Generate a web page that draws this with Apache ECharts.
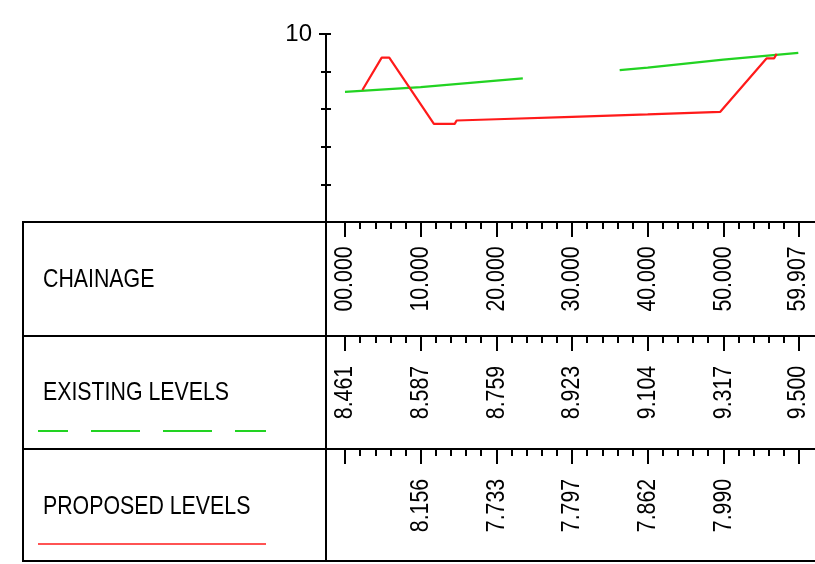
<!DOCTYPE html>
<html>
<head>
<meta charset="utf-8">
<script src="https://cdn.jsdelivr.net/npm/echarts@6/dist/echarts.min.js"></script>
<style>
html, body { margin: 0; padding: 0; background: #fff; }
#chart { width: 815px; height: 564px; }
</style>
</head>
<body>
<div id="chart"></div>
<script>
// stations along the section and the values printed in the table
const stations = [0, 10, 20, 30, 40, 50, 59.907];
const chainageLabels = ['00.000', '10.000', '20.000', '30.000', '40.000', '50.000', '59.907'];
const existingLevels = [8.461, 8.587, 8.759, 8.923, 9.104, 9.317, 9.500];
const proposedStations = [10, 20, 30, 40, 50];
const proposedLevels = [8.156, 7.733, 7.797, 7.862, 7.990];

// profile lines as drawn, '-' = gap in the survey
const existingLine = [[0, 8.461], [10, 8.587], [20, 8.759], [23.5, 8.82], [30, '-'], [36.3, 9.04], [40, 9.104], [50, 9.317], [59.907, 9.5]];
const proposedLine = [[2.3, 8.51], [4.85, 9.37], [5.85, 9.37], [11.75, 7.61], [14.5, 7.61], [14.75, 7.70], [20, 7.733], [30, 7.797], [40, 7.862], [49.6, 7.93], [55.7, 9.35], [56.7, 9.35], [57.05, 9.47]];

const yMin = 5, yMax = 10, yLabelled = [10];

// the drawing uses a narrow sans; squeeze Liberation Sans to match
const FONT = '"Liberation Sans", Arial, sans-serif';
const NARROW = 0.82;
const INK = '#000';
const GREEN = '#22d322';
const RED = '#ff1a1a';

const chart = echarts.init(document.getElementById('chart'));

const plotLeft = 345, plotWidth = 453.3;
const rows = [
    { top: 222, height: 114 },
    { top: 336, height: 113 },
    { top: 449, height: 113 }
];

function rowAxis(i) {
    return {
        type: 'value', gridIndex: i + 1, position: 'top',
        min: 0, max: 59.907, interval: 10,
        axisLine: { show: false, onZero: false },
        axisTick: { show: true, inside: true, length: 15, lineStyle: { color: INK, width: 2 } },
        minorTick: { show: true, splitNumber: 5, length: 7, lineStyle: { color: INK, width: 2 } },
        axisLabel: { show: false },
        splitLine: { show: false }
    };
}

function plotYAxis(interval, inside, len, withLine, withLabel) {
    return {
        type: 'value', gridIndex: 0, position: 'left',
        min: yMin, max: yMax, interval: interval, offset: 19,
        axisLine: { show: withLine, onZero: false, lineStyle: { color: INK, width: 2 } },
        axisTick: { show: true, inside: inside, length: len, lineStyle: { color: INK, width: 2 } },
        axisLabel: {
            show: withLabel, margin: 14, fontSize: 24, fontFamily: FONT, color: INK,
            formatter: v => yLabelled.includes(v) ? String(v) : ''
        },
        splitLine: { show: false }
    };
}

function labelSeries(row, xs, texts) {
    return {
        type: 'custom', xAxisIndex: row + 1, yAxisIndex: row + 3,
        data: xs.map((x, i) => [x, 0.5, i]),
        silent: true,
        renderItem: (params, api) => {
            const p = api.coord([api.value(0), api.value(1)]);
            return {
                type: 'text', x: p[0], y: p[1], rotation: Math.PI / 2, scaleX: NARROW,
                style: {
                    text: texts[api.value(2)], fontSize: 26, fontFamily: FONT, fill: INK,
                    align: 'center', verticalAlign: 'middle'
                }
            };
        }
    };
}

function hLine(y) {
    return { type: 'line', z: 100, shape: { x1: 23, y1: y, x2: 815, y2: y }, style: { stroke: INK, lineWidth: 2 } };
}
function vLine(x, y1, y2) {
    return { type: 'line', z: 100, shape: { x1: x, y1: y1, x2: x, y2: y2 }, style: { stroke: INK, lineWidth: 2 } };
}
function headText(text, y) {
    return {
        type: 'text', z: 100, x: 43, y: y, scaleX: NARROW,
        style: { text: text, fontSize: 26, fontFamily: FONT, fill: INK, verticalAlign: 'middle' }
    };
}

chart.setOption({
    animation: false,
    backgroundColor: '#fff',
    grid: [
        { left: plotLeft, top: 34, width: plotWidth, height: 188 },
        ...rows.map(r => ({ left: plotLeft, top: r.top, width: plotWidth, height: r.height }))
    ],
    xAxis: [
        { type: 'value', gridIndex: 0, min: 0, max: 59.907, show: false },
        rowAxis(0), rowAxis(1), rowAxis(2)
    ],
    yAxis: [
        plotYAxis(1, false, 5, true, true),
        plotYAxis(1, true, 5, false, false),
        plotYAxis(5, false, 7, false, false),
        { type: 'value', gridIndex: 1, min: 0, max: 1, show: false },
        { type: 'value', gridIndex: 2, min: 0, max: 1, show: false },
        { type: 'value', gridIndex: 3, min: 0, max: 1, show: false }
    ],
    series: [
        {
            name: 'EXISTING LEVELS', type: 'line', xAxisIndex: 0, yAxisIndex: 0,
            data: existingLine, connectNulls: false, symbol: 'none',
            lineStyle: { color: GREEN, width: 2.2 }, itemStyle: { color: GREEN }
        },
        {
            name: 'PROPOSED LEVELS', type: 'line', xAxisIndex: 0, yAxisIndex: 0,
            data: proposedLine, symbol: 'none',
            lineStyle: { color: RED, width: 2.2 }, itemStyle: { color: RED }
        },
        labelSeries(0, stations, chainageLabels),
        labelSeries(1, stations, existingLevels.map(v => v.toFixed(3))),
        labelSeries(2, proposedStations, proposedLevels.map(v => v.toFixed(3)))
    ],
    graphic: [
        hLine(222), hLine(336), hLine(449), hLine(561),
        vLine(23, 221, 562), vLine(326, 221, 562),
        headText('CHAINAGE', 280),
        headText('EXISTING LEVELS', 393),
        headText('PROPOSED LEVELS', 507),
        {
            type: 'line', z: 100, shape: { x1: 38, y1: 431, x2: 266, y2: 431 },
            style: { stroke: GREEN, lineWidth: 2, lineDash: [49, 23], lineDashOffset: 19 }
        },
        {
            type: 'line', z: 100, shape: { x1: 38, y1: 544, x2: 266, y2: 544 },
            style: { stroke: RED, lineWidth: 1.5 }
        }
    ]
});
</script>
</body>
</html>
